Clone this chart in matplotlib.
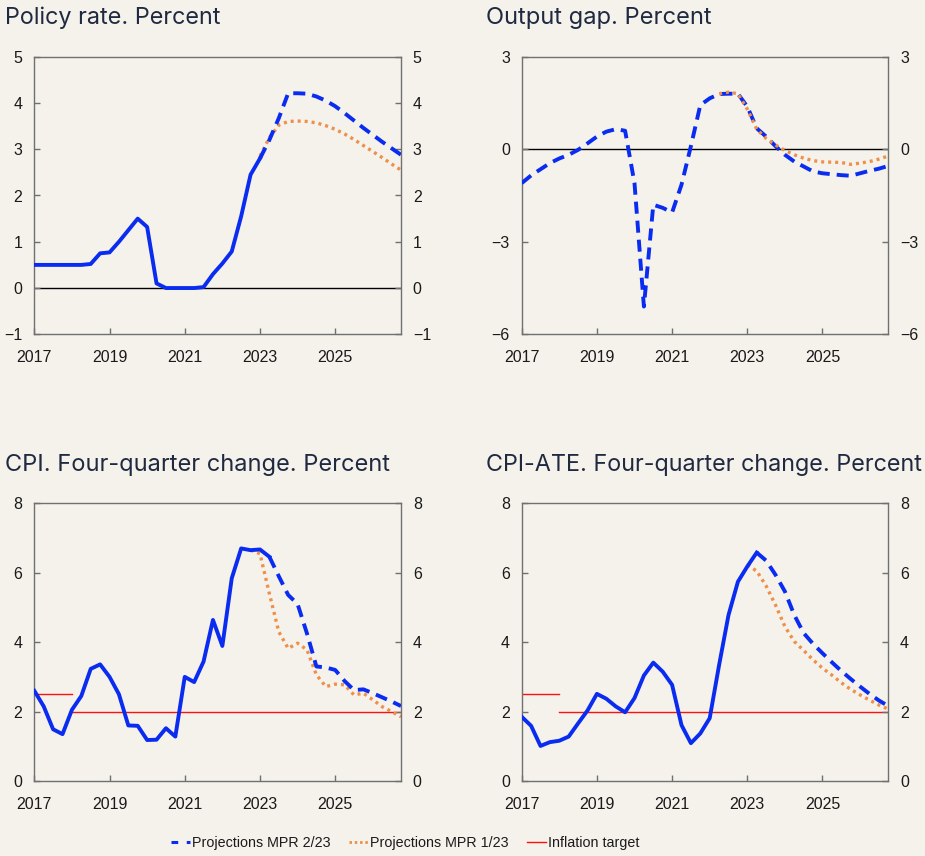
import numpy as np
import pandas as pd
import matplotlib
matplotlib.use("Agg")
import matplotlib.pyplot as plt
from matplotlib.lines import Line2D

# ---------------- data ----------------
quarters = pd.period_range("2017Q1", "2026Q4", freq="Q")
nan = np.nan

policy_actual = [0.5, 0.5, 0.5, 0.5, 0.5, 0.5, 0.52, 0.75, 0.77, 1.0, 1.25, 1.5, 1.32, 0.1,
                 0.0, 0.0, 0.0, 0.0, 0.02, 0.3, 0.53, 0.79, 1.55, 2.45, 2.8]
policy_mpr223 = [2.8, 3.2, 3.67, 4.21, 4.21, 4.2, 4.14, 4.05, 3.93, 3.78, 3.62, 3.46, 3.31,
                 3.16, 3.02, 2.88]
policy_mpr123 = [2.85, 3.25, 3.52, 3.6, 3.61, 3.6, 3.57, 3.51, 3.43, 3.33, 3.21, 3.08, 2.95,
                 2.82, 2.68, 2.55]

gap_mpr223 = [-1.1, -0.85, -0.65, -0.45, -0.3, -0.18, -0.02, 0.19, 0.41, 0.57, 0.65, 0.6,
              -1.1, -5.1, -1.8, -1.9, -2.05, -1.15, 0.1, 1.43, 1.65, 1.79, 1.8, 1.8, 1.38,
              0.68, 0.41, 0.1, -0.18, -0.4, -0.56, -0.72, -0.78, -0.81, -0.84, -0.86, -0.78,
              -0.7, -0.63, -0.54]
gap_mpr123 = [1.8, 1.85, 1.8, 1.3, 0.65, 0.35, 0.14, -0.04, -0.18, -0.29, -0.37, -0.41,
              -0.42, -0.43, -0.49, -0.45, -0.4, -0.32, -0.22]

cpi_actual = [2.6, 2.15, 1.49, 1.35, 2.05, 2.45, 3.23, 3.36, 3.0, 2.5, 1.6, 1.59, 1.18, 1.19,
              1.52, 1.28, 3.0, 2.85, 3.44, 4.64, 3.89, 5.84, 6.7, 6.65, 6.67, 6.46]
cpi_mpr223 = [6.46, 5.9, 5.36, 5.1, 4.25, 3.3, 3.27, 3.2, 2.88, 2.62, 2.64, 2.53, 2.41, 2.29,
              2.16]
cpi_mpr123 = [6.65, 6.55, 5.4, 4.3, 3.82, 3.97, 3.78, 3.06, 2.72, 2.79, 2.77, 2.48, 2.53,
              2.34, 2.14, 2.0, 1.85]

ate_actual = [1.85, 1.59, 1.01, 1.12, 1.16, 1.28, 1.66, 2.03, 2.51, 2.37, 2.15, 1.98, 2.39,
              3.04, 3.41, 3.15, 2.77, 1.61, 1.09, 1.37, 1.81, 3.34, 4.78, 5.74, 6.18, 6.58]
ate_mpr223 = [6.58, 6.35, 5.94, 5.46, 4.78, 4.26, 3.95, 3.68, 3.42, 3.17, 2.94, 2.72, 2.51,
              2.32, 2.16]
ate_mpr123 = [6.22, 6.05, 5.62, 5.07, 4.45, 4.02, 3.76, 3.49, 3.25, 3.05, 2.83, 2.64, 2.48,
              2.33, 2.19, 2.07]

target_old = 2.5   # until 2018
target_new = 2.0   # from 2018

titles = ["Policy rate. Percent", "Output gap. Percent",
          "CPI. Four-quarter change. Percent", "CPI-ATE. Four-quarter change. Percent"]
year_ticks = [2017, 2019, 2021, 2023, 2025]
legend_labels = ["Projections MPR 2/23", "Projections MPR 1/23", "Inflation target"]

# ---------------- style ----------------
BG = "#f5f2ec"
BLUE = "#0a2cf0"
ORANGE = "#ee8f4a"
RED = "#ff1010"
SPINE = "#707070"
TXT = "#1a1a1a"
TITLE_C = "#1f2940"
TICKFONT = "Liberation Sans"

x_all = np.array([q.year + (q.quarter - 1) / 4 for q in quarters])
n = len(x_all)


def tail(vals):
    arr = np.full(n, nan)
    arr[n - len(vals):] = vals
    return arr


def head(vals):
    arr = np.full(n, nan)
    arr[:len(vals)] = vals
    return arr


W, H = 925, 856
fig = plt.figure(figsize=(W / 100, H / 100), dpi=100, facecolor=BG)

boxes = [
    (34.3, 56.7, 401.0, 334.3),
    (521.7, 56.7, 888.3, 334.3),
    (34.3, 503.3, 401.0, 781.0),
    (521.7, 503.3, 888.3, 781.0),
]
axes = []
for (l, t, r, b) in boxes:
    ax = fig.add_axes([l / W, 1 - b / H, (r - l) / W, (b - t) / H], facecolor=BG)
    axes.append(ax)

ylims = [(-1, 5), (-6, 3), (0, 8), (0, 8)]
yticks = [list(range(-1, 6)), [-6, -3, 0, 3], [0, 2, 4, 6, 8], [0, 2, 4, 6, 8]]

LW = 2.8
DASH = (3.1, 1.8)
DOT = (0.9, 1.2)
OLW = 2.4

for i, ax in enumerate(axes):
    ax.set_xlim(2017, 2026.75)
    ax.set_ylim(*ylims[i])
    ax.set_xticks(year_ticks)
    ax.set_xticklabels([str(y) for y in year_ticks])
    ax.set_yticks(yticks[i])
    for s in ax.spines.values():
        s.set_color(SPINE)
        s.set_linewidth(1.0)
    ax.tick_params(axis="both", direction="in", length=4, width=1.0, color=SPINE,
                   labelsize=11.5, labelcolor=TXT)
    ax.tick_params(axis="y", left=True, right=True, labelleft=True, labelright=True, pad=8.5)
    ax.tick_params(axis="x", pad=11.5)
    for lab in ax.get_xticklabels() + ax.get_yticklabels():
        lab.set_fontfamily(TICKFONT)

# titles (left x, baseline y, right x of text in pixels)
title_pos = [(5, 24, 221), (486, 24, 712), (5, 471, 390), (486, 471, 922)]
renderer = fig.canvas.get_renderer()
for (tx, ty, tr), t in zip(title_pos, titles):
    txt = fig.text(tx / W, 1 - ty / H, t, fontsize=15.5, family="Inter", color=TITLE_C,
                   va="baseline", ha="left")
    for _ in range(3):
        w = txt.get_window_extent(renderer).width
        txt.set_fontsize(txt.get_fontsize() * (tr - tx) / w)

# panel 1: policy rate
ax = axes[0]
ax.axhline(0, color="black", lw=1.0, zorder=1)
ax.plot(x_all, tail(policy_mpr123), color=ORANGE, lw=OLW, dashes=DOT, zorder=2)
ax.plot(x_all, tail(policy_mpr223), color=BLUE, lw=LW, dashes=DASH, zorder=3)
ax.plot(x_all, head(policy_actual), color=BLUE, lw=LW, zorder=4)

# panel 2: output gap
ax = axes[1]
ax.axhline(0, color="black", lw=1.0, zorder=1)
ax.plot(x_all, head(gap_mpr223), color=BLUE, lw=LW, dashes=DASH, zorder=3)
ax.plot(x_all, tail(gap_mpr123), color=ORANGE, lw=OLW, dashes=DOT, zorder=4)

# panels 3 and 4: inflation
for ax, act, p2, p1 in [(axes[2], cpi_actual, cpi_mpr223, cpi_mpr123),
                        (axes[3], ate_actual, ate_mpr223, ate_mpr123)]:
    ax.plot([2017, 2018], [target_old, target_old], color=RED, lw=1.0, zorder=1)
    ax.plot([2018, 2026.75], [target_new, target_new], color=RED, lw=1.0, zorder=1)
    ax.plot(x_all, tail(p1), color=ORANGE, lw=OLW, dashes=DOT, zorder=2)
    ax.plot(x_all, tail(p2), color=BLUE, lw=LW, dashes=DASH, zorder=3)
    ax.plot(x_all, head(act), color=BLUE, lw=LW, zorder=4)

# legend
handles = [
    Line2D([], [], color=BLUE, lw=2.2, dashes=(2.2, 2.8)),
    Line2D([], [], color=ORANGE, lw=2.0, dashes=(0.9, 1.0)),
    Line2D([], [], color=RED, lw=1.0),
]
leg = fig.legend(handles, legend_labels, loc="center", bbox_to_anchor=(405 / W, 1 - 843 / H),
                 ncol=3, frameon=False, handlelength=1.35, handletextpad=0.12,
                 columnspacing=1.3, borderaxespad=0, borderpad=0,
                 prop={"family": TICKFONT, "size": 10.3})
for t in leg.get_texts():
    t.set_color(TXT)

fig.savefig("out.png", dpi=100, facecolor=BG)
